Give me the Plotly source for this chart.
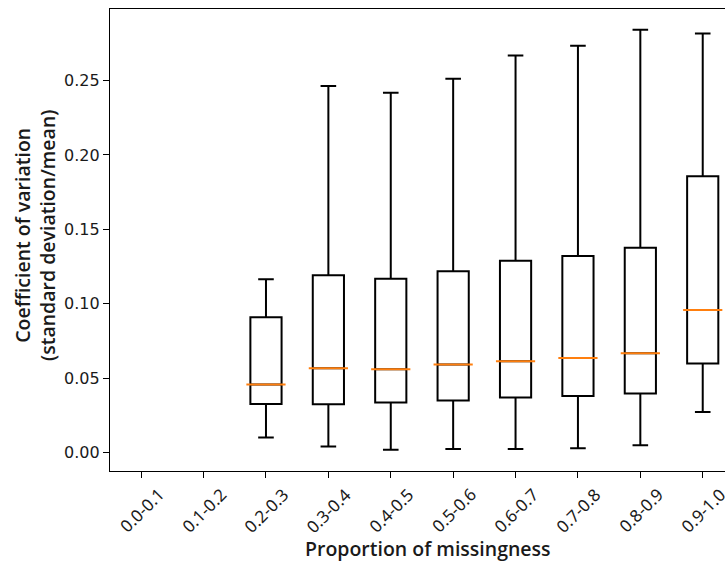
import plotly.graph_objects as go

categories = ["0.0-0.1", "0.1-0.2", "0.2-0.3", "0.3-0.4", "0.4-0.5",
              "0.5-0.6", "0.6-0.7", "0.7-0.8", "0.8-0.9", "0.9-1.0"]
box_categories = categories[2:]
lower_whisker = [0.0101, 0.0040, 0.0018, 0.0024, 0.0024, 0.0029, 0.0049, 0.0273]
q1_values = [0.0327, 0.0325, 0.0336, 0.0350, 0.0370, 0.0380, 0.0397, 0.0599]
median_values = [0.0458, 0.0567, 0.0559, 0.0592, 0.0614, 0.0635, 0.0668, 0.0958]
q3_values = [0.0910, 0.1191, 0.1168, 0.1218, 0.1289, 0.1321, 0.1377, 0.1857]
upper_whisker = [0.1164, 0.2463, 0.2418, 0.2512, 0.2669, 0.2734, 0.2842, 0.2817]
y_tick_values = [0.00, 0.05, 0.10, 0.15, 0.20, 0.25]
y_tick_labels = ["0.00", "0.05", "0.10", "0.15", "0.20", "0.25"]
x_title = "Proportion of missingness"
y_title = "Coefficient of variation<br>(standard deviation/mean)"

W, H = 725, 561
ML, MR, MT, MB = 110, 0, 9, 90
plot_w = W - ML - MR
plot_h = H - MT - MB

fig = go.Figure()
fig.add_trace(go.Box(
    x=box_categories,
    q1=q1_values, median=median_values, q3=q3_values,
    lowerfence=lower_whisker, upperfence=upper_whisker,
    width=0.5, whiskerwidth=0.5,
    fillcolor="white",
    line=dict(color="black", width=2),
    boxpoints=False,
    showlegend=False,
    hoverinfo="skip",
))
# orange median lines
fig.add_trace(go.Scatter(
    x=box_categories, y=median_values, mode="markers",
    marker=dict(symbol="line-ew", size=28, color="#ff7f0e",
                line=dict(color="#ff7f0e", width=2)),
    showlegend=False, hoverinfo="skip",
))

font_tick_y = dict(family="DejaVu Sans", size=16, color="#1a1a1a")
font_tick_x = dict(family="Noto Sans", size=17, color="#1a1a1a")
font_title = dict(family="Open Sans", size=19.5, color="#1a1a1a", weight=600)

annotations = []
for c in categories:
    annotations.append(dict(
        x=c, xref="x", y=(MT + plot_h - 510) / plot_h, yref="paper",
        text=c, showarrow=False, textangle=-45,
        xanchor="center", yanchor="middle", font=font_tick_x,
    ))
annotations.append(dict(
    x=(428 - ML) / plot_w, xref="paper", y=(MT + plot_h - 533) / plot_h, yref="paper",
    text=x_title, showarrow=False, xanchor="center", yanchor="top", font=font_title,
))
annotations.append(dict(
    x=(35 - ML) / plot_w, xref="paper", y=(MT + plot_h - 236) / plot_h, yref="paper",
    text=y_title, showarrow=False, textangle=-90,
    xanchor="center", yanchor="middle", font=font_title,
))

fig.update_layout(
    width=W, height=H,
    margin=dict(l=ML, r=MR, t=MT, b=MB, pad=0),
    paper_bgcolor="white", plot_bgcolor="white",
    annotations=annotations,
    xaxis=dict(
        type="category", categoryorder="array", categoryarray=categories,
        range=[-0.5, 9.357],
        showgrid=False, zeroline=False,
        showline=True, linecolor="black", linewidth=1.3, mirror=True,
        ticks="outside", ticklen=6, tickwidth=1.3, tickcolor="black",
        showticklabels=False,
    ),
    yaxis=dict(
        range=[-0.0124, 0.2981],
        showgrid=False, zeroline=False,
        showline=True, linecolor="black", linewidth=1.3, mirror=False,
        ticks="outside", ticklen=6, tickwidth=1.3, tickcolor="black",
        tickvals=y_tick_values, ticktext=y_tick_labels,
        tickfont=font_tick_y,
    ),
)

fig.write_html("out.html")
